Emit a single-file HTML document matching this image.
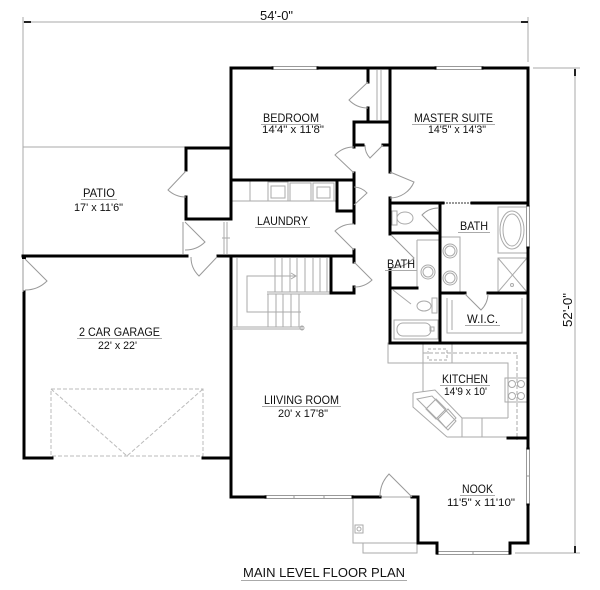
<!DOCTYPE html>
<html><head><meta charset="utf-8"><style>
html,body{margin:0;padding:0;background:#fff;}
svg{display:block;}
text{font-family:"Liberation Sans",Arial,sans-serif;fill:#111;}
</style></head><body>
<svg width="600" height="590" viewBox="0 0 600 590" xmlns="http://www.w3.org/2000/svg">
<rect width="600" height="590" fill="#fff"/>

<!-- dimension lines -->
<g stroke="#aaa" stroke-width="1" fill="none">
<path d="M23,22 H528 M23,17 V147 M528,17 V62"/>
<path d="M575,68 V553 M533,68 H580 M515,553 H580"/>
<!-- patio outline -->
<path d="M23,147 H186 M23,147 V256"/>
</g>
<g stroke="#222" stroke-width="2">
<path d="M24,22 H31 M521,22 H528 M575,69 V76 M575,546 V553"/>
</g>

<!-- garage door dashed -->
<g stroke="#bbb" stroke-width="1" fill="none" stroke-dasharray="4 2">
<rect x="51" y="389" width="152" height="67"/>
<path d="M51,389 L127,456 L203,389"/>
</g>

<!-- porch -->
<g stroke="#aaa" stroke-width="1" fill="#fff">
<rect x="353" y="497" width="65" height="46"/>
<rect x="363" y="543" width="54" height="10"/>
<rect x="355" y="525" width="8" height="8"/>
<circle cx="359" cy="529" r="2"/>
</g>

<!-- stairs -->
<g stroke="#aaa" stroke-width="1" fill="none">
<path d="M237,258 V327 M233,327 H303 M233,329 H303"/>
<path d="M275,258 V292 M282,258 V292 M290,258 V292 M297,258 V292 M305,258 V292 M313,258 V292 M320,258 V292 M327,258 V292"/>
<path d="M267,292 H331 M267,294 H331"/>
<path d="M268,294 V327 M276,294 V327 M283,294 V327 M291,294 V327 M299,294 V327"/>
<path d="M295,276 H247 V312 H301"/>
<path d="M291,273 L296,276 L291,279"/>
<circle cx="302" cy="328" r="2"/>
</g>

<!-- laundry appliances -->
<g stroke="#aaa" stroke-width="1" fill="none">
<path d="M232,201 H337 M250,181 V201"/>
<rect x="268" y="182" width="20" height="19"/>
<rect x="271" y="186" width="14" height="12"/>
<rect x="290" y="183" width="21" height="18"/>
<rect x="313" y="183" width="21" height="18"/>
<rect x="317" y="187" width="13" height="11"/>
<path d="M224,222 V254 M227,222 V254 M222,238 H230"/>
</g>

<!-- chase -->
<g stroke="#aaa" stroke-width="1" fill="none">
<path d="M377,70 V120 M381,70 V120"/>
</g>

<!-- bath fixtures -->
<g stroke="#aaa" stroke-width="1" fill="none">
<rect x="498" y="207" width="29" height="46"/>
<ellipse cx="512" cy="230" rx="12" ry="19"/>
<ellipse cx="512" cy="230" rx="9" ry="16"/>
<rect x="498" y="258" width="29" height="34"/>
<path d="M498,258 L527,292 M527,258 L498,292"/>
<circle cx="512" cy="285" r="1.5"/>
<rect x="441" y="237" width="19" height="55"/>
<circle cx="450" cy="251" r="7"/><circle cx="450" cy="251" r="5"/>
<circle cx="450" cy="278" r="7"/><circle cx="450" cy="278" r="5"/>
<path d="M417,240 V288 M417,240 H440"/>
<circle cx="428" cy="272" r="7"/><circle cx="428" cy="272" r="5"/>
<ellipse cx="405" cy="218" rx="8" ry="6"/>
<rect x="392" y="211" width="5" height="14"/>
<ellipse cx="424" cy="306" rx="7" ry="5"/>
<rect x="432" y="298" width="5" height="15"/>
<path d="M393,290 L411,304"/>
<rect x="394" y="320" width="44" height="19"/>
<rect x="397" y="323" width="34" height="13" rx="6"/>
<rect x="430" y="327" width="4" height="4"/>
<path d="M447,298 V333 H522 V298"/>
<path d="M452,300 V330"/>
</g>

<!-- kitchen -->
<g stroke="#aaa" stroke-width="1" fill="none">
<rect x="388" y="343" width="35" height="20"/>
<rect x="423" y="343" width="29" height="20"/>
<path d="M428,349 H447 V360 H428 Z" stroke-dasharray="3 2"/>
<path d="M423,363 H508 V418 M423,363 V392"/>
<path d="M423,353 H517 V440" stroke-dasharray="4 2"/>
<rect x="505" y="378" width="22" height="24"/>
<circle cx="512" cy="384" r="3.5"/><circle cx="521" cy="384" r="3.5"/>
<circle cx="512" cy="396" r="3.5"/><circle cx="521" cy="396" r="3.5"/>
<path d="M462,418 H508 M462,418 V437 M482,418 V437 M447,437 H508"/>
<path d="M413,393 L435,390 L462,418 M413,393 V407 L447,437"/>
<path d="M417,399 L432,396 L456,421 L448,430 Z"/>
<path d="M426,409 L436,399 L446,409 L436,419 Z"/>
<path d="M438,419 L448,409 L456,418 L446,428 Z"/>
</g>

<!-- windows -->
<g stroke="#999" stroke-width="1" fill="#fff">
<rect x="272" y="66.5" width="46" height="3"/>
<rect x="435" y="66.5" width="48" height="3"/>
<rect x="526.5" y="206" width="3" height="42"/>
<rect x="526.5" y="448" width="3" height="57"/>
<rect x="437" y="551.5" width="73" height="3"/>
<rect x="265" y="495.5" width="88" height="3"/>
<path d="M294,495.5 V498.5 M324,495.5 V498.5 M473,551.5 V554.5 M526.5,476 H529.5"/>
</g>
<path d="M443,203 H472" stroke="#999" stroke-width="2" stroke-dasharray="2 1" fill="none"/>

<!-- walls -->
<g stroke="#000" stroke-width="3" fill="none" stroke-linecap="square">
<path d="M231,68 H272 M318,68 H435 M483,68 H528 V205 M528,248 V448"/>
<path d="M528,505 V543 H510 V553 M437,553 V543 H418 V497 H412"/>
<path d="M380,497 H353 M265,497 H231 V256"/>
<path d="M23,256 H187 M218,256 H354"/>
<path d="M231,219 V68 M231,148 H186 V170 M186,197 V219 H231"/>
<path d="M231,180 H354 M337,180 V211 H354"/>
<path d="M354,122 V147 M354,173 V223 M354,250 V262 M354,287 V293 H331 V256"/>
<path d="M354,122 H390 M355,145 H363 M383,145 H390"/>
<path d="M368,68 V82 M368,108 V122"/>
<path d="M390,68 V172 M390,198 V234 M390,270 V343"/>
<path d="M390,203 H443 M472,203 H528 M390,233 H440 M440,203 V343"/>
<path d="M390,288 H417 M440,293 H465 M488,293 H528 M390,343 H528 M508,438 H528"/>
<path d="M24,292 V458 H52 M203,458 H231 V497"/>
</g>
<rect x="22" y="255" width="4" height="4" fill="#000"/>

<!-- doors -->
<g stroke="#999" stroke-width="1" fill="none">
<path d="M186,171 L168,190 A26,26 0 0,0 186,197"/>
<path d="M185,222 L205,242 A28,28 0 0,1 185,250 M183,222 V254"/>
<path d="M217,257 L199,276 A26,26 0 0,1 191,257"/>
<path d="M25,259 L47,281 A31,31 0 0,1 25,290 M23,259 V292"/>
<path d="M368,82 L349,100 A26,26 0 0,0 368,108"/>
<path d="M383,145 L370,158 A18,18 0 0,1 365,145"/>
<path d="M354,173 L335,155 A26,26 0 0,1 354,147"/>
<path d="M390,172 L414,182 A26,26 0 0,1 390,198"/>
<path d="M354,250 L335,231 A26,26 0 0,1 354,224"/>
<path d="M354,205 L367,193 A18,18 0 0,0 354,187"/>
<path d="M354,262 L372,280 A25,25 0 0,1 354,287"/>
<path d="M391,235 L414,258 A33,33 0 0,1 391,268"/>
<path d="M438,231 L422,215 A23,23 0 0,1 438,208"/>
<path d="M465,294 L481,310 A23,23 0 0,0 488,294"/>
<path d="M412,497 L389,474 A32,32 0 0,0 380,497"/>
</g>

<!-- labels -->
<g font-size="12">
<text x="260" y="20" font-size="13" textLength="33" lengthAdjust="spacingAndGlyphs">54'-0"</text>
<text x="263" y="122" textLength="56" lengthAdjust="spacingAndGlyphs">BEDROOM</text>
<text x="262" y="133" font-size="11" textLength="62" lengthAdjust="spacingAndGlyphs">14'4" x 11'8"</text>
<text x="414" y="122" textLength="79" lengthAdjust="spacingAndGlyphs">MASTER SUITE</text>
<text x="428" y="133" font-size="11" textLength="58" lengthAdjust="spacingAndGlyphs">14'5" x 14'3"</text>
<text x="83" y="197" textLength="32" lengthAdjust="spacingAndGlyphs">PATIO</text>
<text x="74" y="211" font-size="11" textLength="49" lengthAdjust="spacingAndGlyphs">17' x 11'6"</text>
<text x="257" y="225" textLength="51" lengthAdjust="spacingAndGlyphs">LAUNDRY</text>
<text x="460" y="230" textLength="28" lengthAdjust="spacingAndGlyphs">BATH</text>
<text x="387" y="268" textLength="28" lengthAdjust="spacingAndGlyphs">BATH</text>
<text x="467" y="323" textLength="31" lengthAdjust="spacingAndGlyphs">W.I.C.</text>
<text x="79" y="336" textLength="81" lengthAdjust="spacingAndGlyphs">2 CAR GARAGE</text>
<text x="98" y="349" font-size="11" textLength="39" lengthAdjust="spacingAndGlyphs">22' x 22'</text>
<text x="264" y="404" textLength="75" lengthAdjust="spacingAndGlyphs">LIIVING ROOM</text>
<text x="278" y="417" font-size="11" textLength="50" lengthAdjust="spacingAndGlyphs">20' x 17'8"</text>
<text x="442" y="383" textLength="46" lengthAdjust="spacingAndGlyphs">KITCHEN</text>
<text x="444" y="395" font-size="11" textLength="43" lengthAdjust="spacingAndGlyphs">14'9 x 10'</text>
<text x="462" y="493" textLength="31" lengthAdjust="spacingAndGlyphs">NOOK</text>
<text x="447" y="506" font-size="11" textLength="68" lengthAdjust="spacingAndGlyphs">11'5" x 11'10"</text>
<text x="243" y="577" font-size="13" textLength="162" lengthAdjust="spacingAndGlyphs">MAIN LEVEL FLOOR PLAN</text>
<text x="0" y="0" font-size="13" textLength="34" lengthAdjust="spacingAndGlyphs" transform="translate(572,327) rotate(-90)">52'-0"</text>
</g>

<!-- underlines -->
<g stroke="#aaa" stroke-width="1">
<path d="M261,124.5 H321 M412,124.5 H495 M81,199.5 H117 M255,227.5 H310 M458,232.5 H490 M385,270.5 H417 M465,325.5 H500 M77,338.5 H162 M262,406.5 H341 M440,385.5 H490 M460,495.5 H495 M241,580.5 H407"/>
</g>
</svg>
</body></html>
